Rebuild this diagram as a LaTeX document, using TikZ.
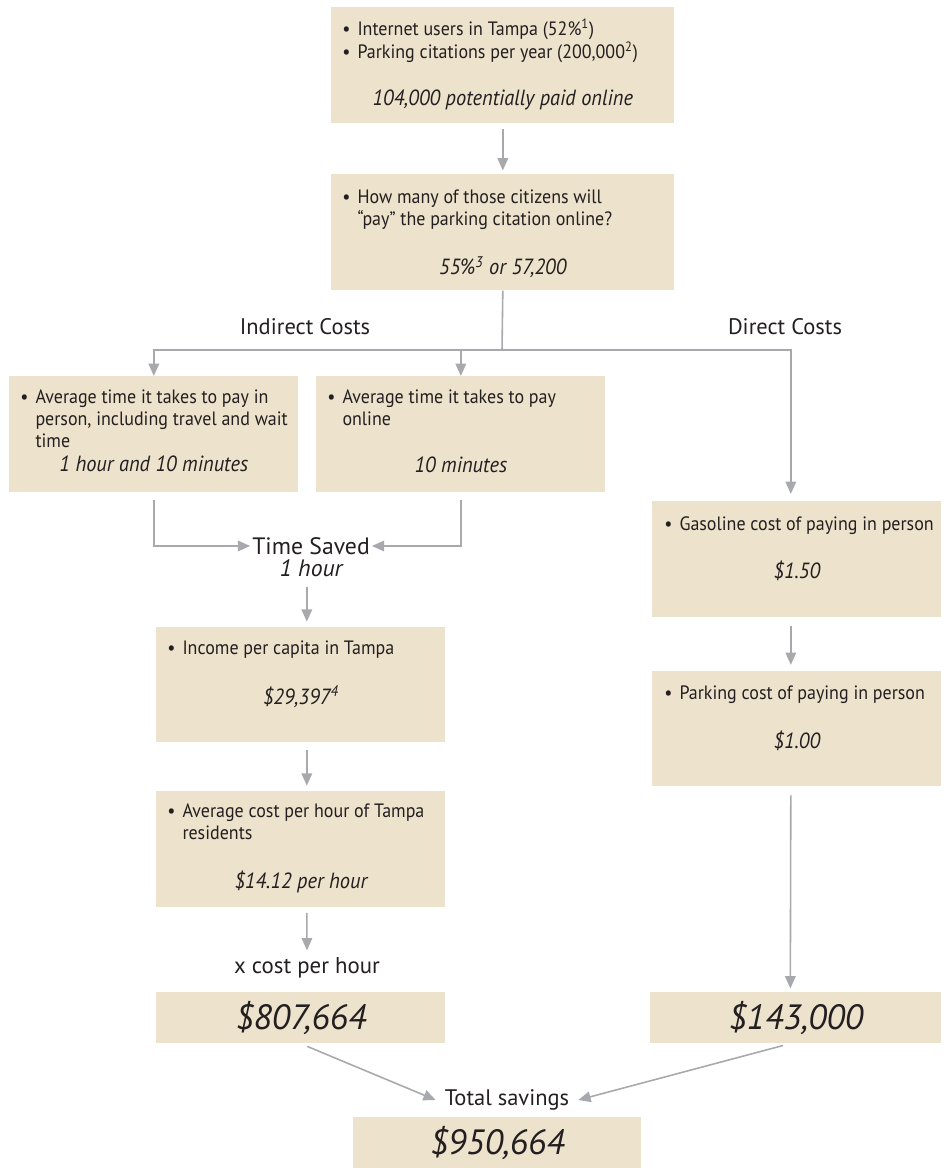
\documentclass[tikz,border=0pt]{standalone}
\usepackage{fontspec}
\setmainfont{PT Sans}
\newfontfamily\cardfont{PT Sans}[FakeStretch=0.93]
\usepackage{tikz}
\usetikzlibrary{arrows.meta,calc,positioning}
\definecolor{Ink}{HTML}{231F20}
\definecolor{Sand}{HTML}{EDE2CB}
\definecolor{Wire}{HTML}{A7A9AC}
% bullet rows on top, value line centred below
\newcommand{\cardbody}[6][13pt]{\begin{minipage}[t][#2][t]{#3}\noindent\rule{0pt}{#4}%
  \begin{tabular}[t]{@{}l@{\hspace{4pt}}l@{}}#5\end{tabular}\par
  \vspace{#1}{\centering\fontsize{12.5}{12.5}\selectfont\itshape #6\par}\end{minipage}}
\newcommand{\bul}{\textbullet}
\tikzset{card/.style={anchor=north west,fill=Sand,inner xsep=.22cm,inner ysep=0pt,text=Ink,font=\cardfont\fontsize{11}{12.5}\selectfont},widecard/.style={card,inner xsep=.24cm},total/.style={anchor=north west,fill=Sand,minimum width=5.78cm,minimum height=1.02cm,inner sep=0pt,text=Ink,font=\fontsize{20}{22}\selectfont\itshape},head/.style={text=Ink,inner sep=1pt,font=\fontsize{12.8}{14}\selectfont},flow/.style={-{Triangle[length=7pt,width=6pt]},line width=.9pt,draw=Wire},wire/.style={line width=.9pt,draw=Wire}}

\begin{document}
\begin{tikzpicture}[x=0.02cm,y=-0.02cm]
  \useasboundingbox (0,0) rectangle (948,1168);
  \node[card](users) at (331,7){\cardbody{2.32cm}{6.42cm}{16pt}{\bul & Internet users in Tampa (52\%\textsuperscript{1})\\ \bul & Parking citations per year (200,000\textsuperscript{2})}{104,000 potentially paid online}};
  \node[card](share) at (331,174){\cardbody{2.32cm}{6.42cm}{16.4pt}{\bul & How many of those citizens will\\ & “pay” the parking citation online?}{55\%\textsuperscript{3} or 57,200}};
  \node[card](inperson) at (9,376){\cardbody[0pt]{2.32cm}{5.34cm}{15.3pt}{\bul & Average time it takes to pay in\\ & person, including travel and wait\\ & time}{1 hour and 10 minutes}};
  \node[card](online) at (316,376){\cardbody{2.32cm}{5.34cm}{15.3pt}{\bul & Average time it takes to pay\\ & online}{10 minutes}};
  \node[widecard](gas) at (652,501){\cardbody{2.32cm}{5.3cm}{16.4pt}{\bul & Gasoline cost of paying in person}{\$1.50}};
  \node[widecard](park) at (652,671){\cardbody{2.3cm}{5.3cm}{16pt}{\bul & Parking cost of paying in person}{\$1.00}};
  \node[card](income) at (156,627){\cardbody{2.3cm}{5.34cm}{15.3pt}{\bul & Income per capita in Tampa}{\$29,397\textsuperscript{4}}};
  \node[card](hourly) at (156,791){\cardbody{2.32cm}{5.34cm}{15pt}{\bul & Average cost per hour of Tampa\\ & residents}{\$14.12 per hour}};
  \node[total](indirect) at (156,992){\$807,664};
  \node[total,minimum width=5.82cm](direct) at (650,992){\$143,000};
  \node[total,minimum width=5.76cm](savings) at (353,1117){\$950,664};
  \node[head](indirectlbl) at (305,327){Indirect Costs};
  \node[head](directlbl) at (785,327){Direct Costs};
  \node[head,font=\fontsize{13.5}{15}\selectfont](saved) at (311,546){Time Saved};
  \node[head,font=\fontsize{13.5}{15}\selectfont\itshape](hour) at (311,568){1 hour};
  \node[head,font=\fontsize{13}{15}\selectfont](rate) at (307,968){x cost per hour};
  \node[head,inner xsep=5pt](sum) at (507,1100){Total savings};
  \coordinate (fork) at (502,350);
  \draw[flow,shorten <=3pt,shorten >=2pt](users)--(share);
  \draw[wire](share.south)--(fork);
  \draw[flow](fork)-|(inperson.north);\draw[flow](fork)-|(online.north);
  \draw[flow,shorten >=4pt](fork)-|($(gas.north)+(-6,0)$);
  \draw[flow,shorten <=4.5pt,shorten >=3.5pt]($(gas.south)+(-6,0)$)--($(park.north)+(-6,0)$);
  \draw[flow,shorten <=5pt,shorten >=2pt]($(park.south)+(-6,0)$)--($(direct.north)+(-5.5,0)$);
  \draw[flow,shorten <=4pt](inperson.south)|-(saved.west);\draw[flow,shorten <=4pt](online.south)|-(saved.east);
  \draw[flow,shorten <=5pt,shorten >=3pt](hour.south -| {$(income.north)+(6,0)$})--($(income.north)+(6,0)$);
  \draw[flow,shorten <=4pt,shorten >=3pt]($(income.south)+(6,0)$)--($(hourly.north)+(6,0)$);
  \draw[flow,shorten <=3pt,shorten >=3pt]($(hourly.south)+(6,0)$)--(rate.north);
  \draw[flow,shorten <=4pt](indirect.south)--(sum.west);\draw[flow,shorten <=4pt]($(direct.south)+(-6,0)$)--(sum.east);
\end{tikzpicture}
\end{document}
